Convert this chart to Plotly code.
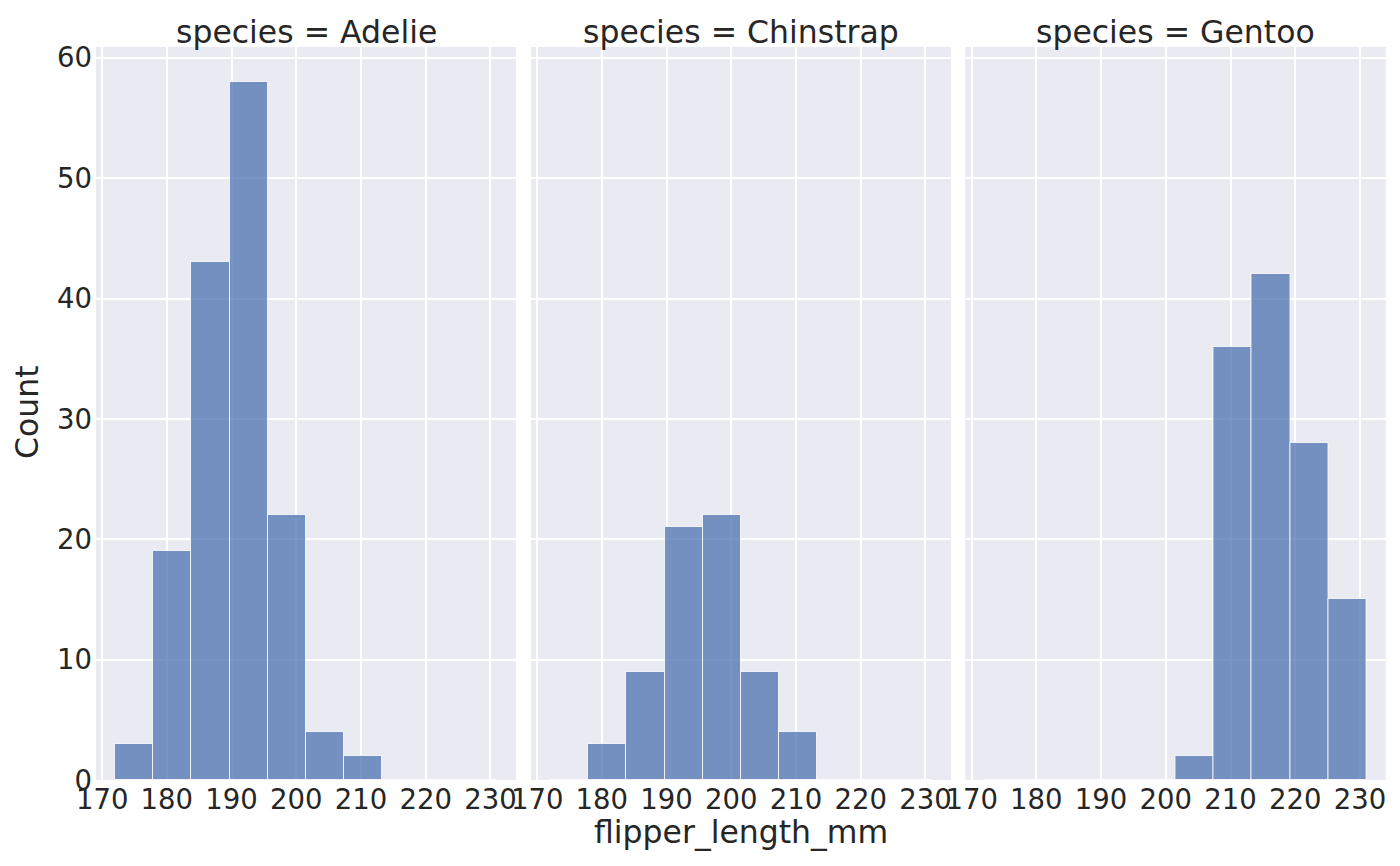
import plotly.graph_objects as go
from plotly.subplots import make_subplots

# -----------------------------
# Data: flipper length histogram per species (10 shared bins)
# -----------------------------
bin_edges = [172.0, 177.9, 183.8, 189.7, 195.6, 201.5, 207.4, 213.3, 219.2, 225.1, 231.0]
species = ["Adelie", "Chinstrap", "Gentoo"]
adelie_counts = [3, 19, 43, 58, 22, 4, 2, 0, 0, 0]
chinstrap_counts = [0, 3, 9, 21, 22, 9, 4, 0, 0, 0]
gentoo_counts = [0, 0, 0, 0, 0, 2, 36, 42, 28, 15]
x_ticks = [170, 180, 190, 200, 210, 220, 230]
y_ticks = [0, 10, 20, 30, 40, 50, 60]

counts = [adelie_counts, chinstrap_counts, gentoo_counts]
centers = [(a + b) / 2 for a, b in zip(bin_edges[:-1], bin_edges[1:])]
widths = [b - a for a, b in zip(bin_edges[:-1], bin_edges[1:])]

FONT = "DejaVu Sans"
TXT = "#262626"
BG = "#EAEAF2"

# page body adds an 8px margin, so the figure is shrunk and positions shifted
W, H, OFF = 1384, 850, 8


def px(x):
    return (x - OFF) / W


def py(y):
    return 1 - (y - OFF) / H


fig = make_subplots(rows=1, cols=3, shared_yaxes=True)

for i, (sp, c) in enumerate(zip(species, counts)):
    fig.add_trace(go.Bar(x=centers, y=c, width=widths,
                         marker=dict(color="rgba(76,114,176,0.75)",
                                     line=dict(color="rgba(255,255,255,0.8)", width=1)),
                         showlegend=False), row=1, col=i + 1)

domains = [[px(96), px(516)], [px(531), px(951)], [px(965.5), px(1385.5)]]
ydom = [py(780), py(47)]

axis_common = dict(showline=False, zeroline=False, gridcolor="white", gridwidth=1.8,
                   ticks="", automargin=False,
                   tickfont=dict(family=FONT, size=27.5, color=TXT))

for i in range(3):
    xa = "xaxis" if i == 0 else f"xaxis{i + 1}"
    ya = "yaxis" if i == 0 else f"yaxis{i + 1}"
    fig.update_layout({
        xa: dict(domain=domains[i], range=[169.05, 233.95], tickvals=x_ticks, **axis_common),
        ya: dict(domain=ydom, range=[0, 60.9], tickvals=y_ticks, ticklabelstandoff=3,
                 showticklabels=(i == 0), **axis_common),
    })
    fig.add_annotation(text=f"species = {species[i]}", xref="paper", yref="paper",
                       x=sum(domains[i]) / 2, y=py(32), xanchor="center", yanchor="middle",
                       showarrow=False, font=dict(family=FONT, size=31.5, color=TXT))
    fig.add_shape(type="rect", xref="paper", yref="paper", layer="below",
                  x0=domains[i][0], x1=domains[i][1], y0=ydom[0], y1=ydom[1],
                  fillcolor=BG, line=dict(width=0))

fig.add_annotation(text="flipper_length_mm", xref="paper", yref="paper",
                   x=px(740.5), y=py(832), xanchor="center", yanchor="middle",
                   showarrow=False, font=dict(family=FONT, size=31.5, color=TXT))
fig.add_annotation(text="Count", xref="paper", yref="paper", textangle=-90,
                   x=px(27), y=py(412), xanchor="center", yanchor="middle",
                   showarrow=False, font=dict(family=FONT, size=31.5, color=TXT))

fig.update_layout(width=W, height=H, margin=dict(l=0, r=0, t=0, b=0),
                  paper_bgcolor="white", plot_bgcolor=BG, bargap=0,
                  font=dict(family=FONT, color=TXT))

fig.write_html("out.html")
